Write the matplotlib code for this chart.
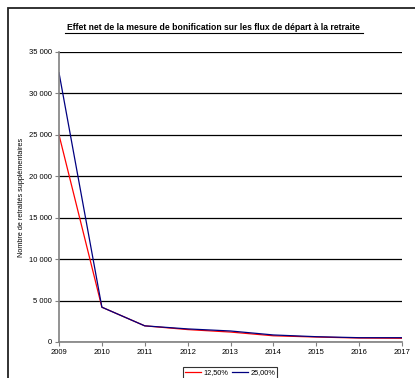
import matplotlib.pyplot as plt
from matplotlib.patches import Rectangle
from matplotlib.ticker import FuncFormatter, MultipleLocator

plt.rcParams['font.family'] = ['Liberation Sans', 'DejaVu Sans']

years = [2009, 2010, 2011, 2012, 2013, 2014, 2015, 2016, 2017]
taux_12_5 = [25000, 4200, 1950, 1500, 1200, 750, 600, 480, 450]
taux_25 = [32500, 4200, 1950, 1580, 1330, 850, 640, 520, 520]
series_labels = ['12,50%', '25,00%']

W, H = 415, 378
fig = plt.figure(figsize=(W / 100, H / 100), dpi=100)

# outer chart frame (right and bottom edges fall outside the image)
fig.patches.append(Rectangle((8 / W, -0.1), 1.2, 1.1 - 8 / H,
                             transform=fig.transFigure, fill=False,
                             edgecolor='#222222', linewidth=1.3))

ax = fig.add_axes([59 / W, 1 - 342 / H, (402 - 59) / W, (342 - 52) / H])

ax.plot(years, taux_12_5, color='#ff0000', linewidth=0.9, label=series_labels[0])
ax.plot(years, taux_25, color='#000080', linewidth=0.9, label=series_labels[1])

ax.set_xlim(2009, 2017)
ax.set_ylim(0, 35000)
ax.set_xticks(years)
ax.yaxis.set_major_locator(MultipleLocator(5000))
ax.yaxis.set_major_formatter(FuncFormatter(lambda v, p: f'{int(v):,}'.replace(',', ' ')))
ax.grid(axis='y', color='black', linewidth=0.9)
ax.set_axisbelow(True)

for side in ['top', 'right']:
    ax.spines[side].set_visible(False)
for side in ['left', 'bottom']:
    ax.spines[side].set_color('#808080')
    ax.spines[side].set_linewidth(1.2)
ax.tick_params(colors='#808080', labelcolor='black', labelsize=5.5,
               length=3, width=0.8, pad=2)

ax.set_ylabel('Nombre de retraités supplémentaires', fontsize=5.2)
ax.yaxis.set_label_coords(-0.098, 0.5)

fig.text(213 / W, 1 - 27 / H,
         'Effet net de la mesure de bonification sur les flux de départ à la retraite',
         ha='center', va='center', fontsize=6.2, fontweight='bold')
# underline under the title
fig.add_artist(plt.Line2D([65 / W, 363 / W], [1 - 32.5 / H, 1 - 32.5 / H],
                          transform=fig.transFigure, color='black', linewidth=0.8))

leg = fig.legend(loc='upper center', bbox_to_anchor=(230 / W, 1 - 367 / H),
                 ncol=2, fontsize=5.3, frameon=True, fancybox=False,
                 handlelength=2.2, columnspacing=0.5, handletextpad=0.3,
                 borderpad=0.3, borderaxespad=0)
leg.get_frame().set_edgecolor('black')
leg.get_frame().set_linewidth(0.8)

fig.savefig('out.png', dpi=100)
